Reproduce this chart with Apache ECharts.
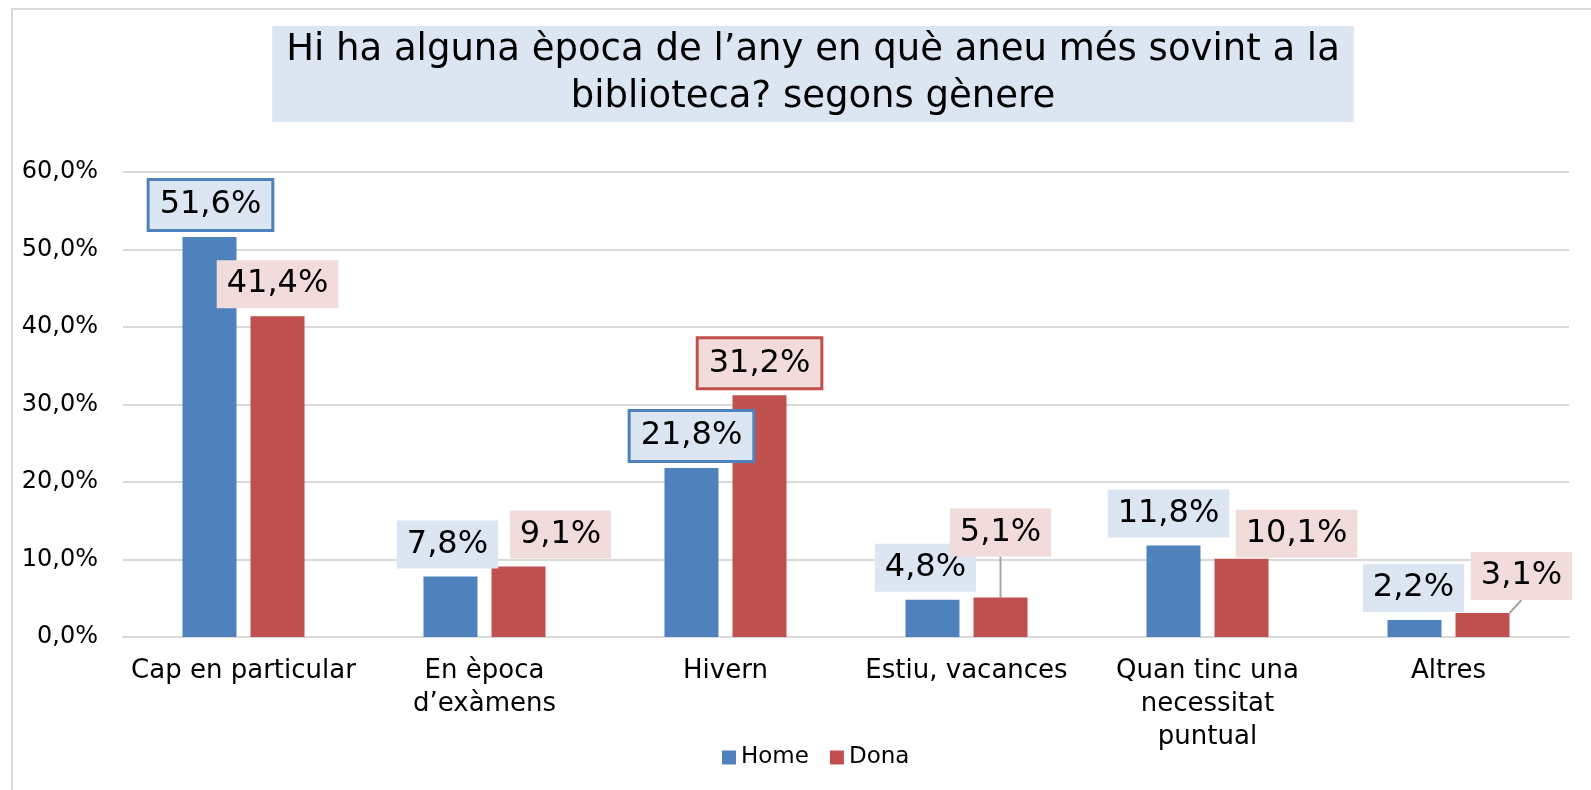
<!DOCTYPE html>
<html>
<head>
<meta charset="utf-8">
<title>Època de l'any - biblioteca</title>
<script src="https://cdn.jsdelivr.net/npm/echarts@6/dist/echarts.min.js"></script>
<style>
    html, body { margin: 0; padding: 0; background: #fff; }
    #chart { width: 1591px; height: 790px; }
</style>
</head>
<body>
<div id="chart"></div>
<script>
const categories = ['Cap en particular', 'En època\nd\u2019exàmens', 'Hivern', 'Estiu, vacances', 'Quan tinc una\nnecessitat\npuntual', 'Altres'];
const homeValues = [51.6, 7.8, 21.8, 4.8, 11.8, 2.2];
const donaValues = [41.4, 9.1, 31.2, 5.1, 10.1, 3.1];
const seriesNames = ['Home', 'Dona'];
const yMin = 0;
const yMax = 60;
const yStep = 10;

// nudges for the data labels, as in the original
const homeShift = [[1, 0], [-3, 0], [0, 0], [-7, 0], [-5, 0], [-1, 0]];
const donaShift = [[0, 0], [42, 0], [0, 0], [0, -33], [55, 7], [39, -5]];
const homeBoxed = [true, false, true, false, false, false];
const donaBoxed = [false, false, true, false, false, false];
const donaLeader = [false, false, false, true, false, true];

const FONT = 'DejaVu Sans';
const BLUE = '#4f81bd';
const RED = '#c0504d';

function pct(v) {
    return v.toFixed(1).replace('.', ',') + '%';
}

function buildData(values, boxed, border, leader) {
    return values.map(function(v, i) {
        const item = { value: v };
        if (boxed[i]) {
            item.label = { borderColor: border, borderWidth: 3 };
        }
        if (leader && leader[i]) {
            item.labelLine = { show: true, lineStyle: { color: '#a6a6a6', width: 2 } };
        }
        return item;
    });
}

function labelStyle(bg) {
    return {
        show: true,
        position: 'top',
        distance: 8,
        formatter: function(p) { return pct(p.value); },
        fontFamily: FONT,
        fontSize: 32,
        lineHeight: 38,
        color: '#000',
        backgroundColor: bg,
        padding: [5, 10]
    };
}

document.addEventListener('DOMContentLoaded', function() {
    const chart = echarts.init(document.getElementById('chart'));

    const option = {
        backgroundColor: '#fff',
        animation: false,
        title: {
            text: 'Hi ha alguna època de l\u2019any en què aneu més sovint a la\nbiblioteca? segons gènere',
            left: 799,
            top: 26,
            textAlign: 'center',
            backgroundColor: '#dce6f2',
            padding: [1, 14],
            textStyle: {
                fontFamily: FONT,
                fontSize: 37,
                fontWeight: 'normal',
                lineHeight: 47,
                color: '#000'
            }
        },
        graphic: [{
            type: 'rect',
            silent: true,
            shape: { x: 12, y: 9, width: 1700, height: 900 },
            style: { fill: 'none', stroke: '#d9d9d9', lineWidth: 2 }
        }],
        legend: {
            data: seriesNames,
            left: 717,
            top: 741,
            icon: 'rect',
            itemWidth: 14,
            itemHeight: 14,
            itemGap: 21,
            textStyle: { fontFamily: FONT, fontSize: 23, color: '#000' }
        },
        grid: {
            left: 123,
            right: 22,
            top: 172,
            bottom: 153,
            containLabel: false
        },
        xAxis: {
            type: 'category',
            data: categories,
            axisTick: { show: false },
            axisLine: { lineStyle: { color: '#d9d9d9', width: 2 } },
            axisLabel: {
                interval: 0,
                margin: 18,
                fontFamily: FONT,
                fontSize: 26,
                lineHeight: 33,
                color: '#000'
            }
        },
        yAxis: {
            type: 'value',
            min: yMin,
            max: yMax,
            interval: yStep,
            axisLine: { show: false },
            axisTick: { show: false },
            splitLine: { lineStyle: { color: '#d9d9d9', width: 2 } },
            axisLabel: {
                margin: 25,
                fontFamily: FONT,
                fontSize: 24,
                color: '#000',
                formatter: function(v) { return pct(v); }
            }
        },
        series: [
            {
                name: seriesNames[0],
                type: 'bar',
                barWidth: 54,
                barGap: '26%',
                itemStyle: { color: BLUE },
                label: labelStyle('#dce6f2'),
                labelLayout: function(p) {
                    return { dx: homeShift[p.dataIndex][0], dy: homeShift[p.dataIndex][1] };
                },
                data: buildData(homeValues, homeBoxed, BLUE, null)
            },
            {
                name: seriesNames[1],
                type: 'bar',
                barWidth: 54,
                barGap: '26%',
                itemStyle: { color: RED },
                label: labelStyle('#f2dcdb'),
                labelLayout: function(p) {
                    return { dx: donaShift[p.dataIndex][0], dy: donaShift[p.dataIndex][1] };
                },
                data: buildData(donaValues, donaBoxed, RED, donaLeader)
            }
        ]
    };

    chart.setOption(option);

    window.addEventListener('resize', function() {
        chart.resize();
    });
});
</script>
</body>
</html>
